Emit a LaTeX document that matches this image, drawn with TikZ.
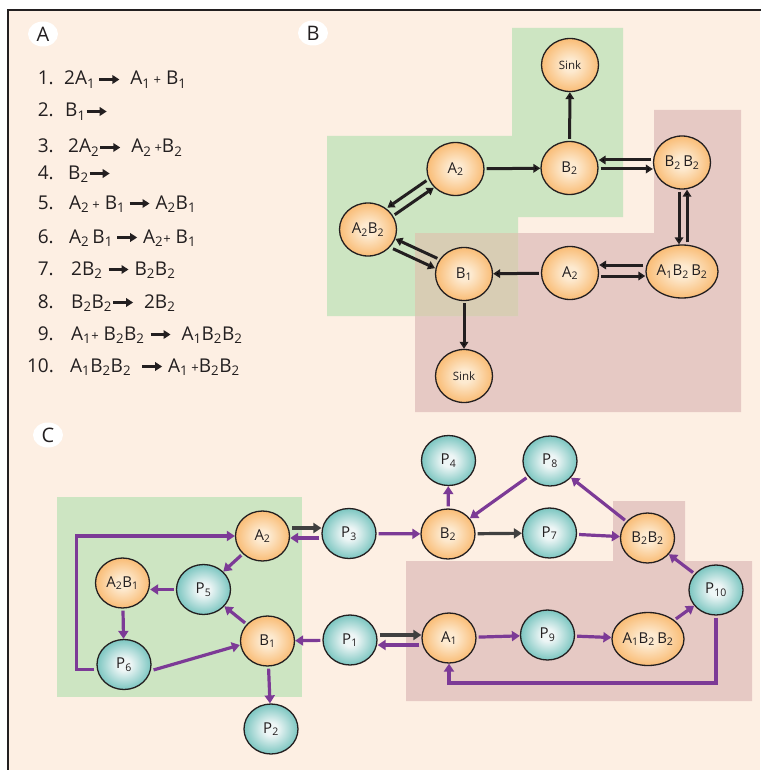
\documentclass[tikz,border=0pt]{standalone}
\usepackage{fontspec}
\setmainfont{Open Sans}
\usetikzlibrary{shapes.geometric,arrows.meta,calc}
\definecolor{bg}{RGB}{253,239,227}
\definecolor{grn}{RGB}{205,229,194}
\definecolor{rd}{RGB}{230,201,196}
\definecolor{ovl}{RGB}{216,205,180}
\definecolor{orout}{RGB}{246,148,38}
\definecolor{orin}{RGB}{253,234,208}
\definecolor{tlout}{RGB}{22,155,145}
\definecolor{tlin}{RGB}{238,246,246}
\definecolor{prp}{RGB}{124,58,150}
\definecolor{gry}{RGB}{64,64,64}
\definecolor{ink}{RGB}{35,31,32}
\pgfdeclareradialshading{orball}{\pgfpoint{0bp}{0bp}}{color(0bp)=(orin); color(6bp)=(orin); color(42bp)=(orout); color(50bp)=(orout)}
\pgfdeclareradialshading{tlball}{\pgfpoint{0bp}{0bp}}{color(0bp)=(tlin); color(6bp)=(tlin); color(42bp)=(tlout); color(50bp)=(tlout)}
\newcommand\sbs[1]{\textsubscript{#1}}
\newcommand\pl{{\fontsize{13}{13}\selectfont+}}
\newcommand\rarr{\tikz[baseline=-5.5pt]\draw[ink,line width=2.2pt,-{Triangle[length=7pt,width=8.5pt]}] (0pt,0pt) -- (20pt,0pt);}
\tikzset{
  nd/.style={ellipse, draw=ink, line width=1.3pt, minimum width=57pt, minimum height=53pt, inner sep=0pt, text=ink, font=\fontsize{15}{15}\selectfont},
  on/.style={nd, shade, shading=orball},
  tn/.style={nd, shade, shading=tlball},
  cn/.style={minimum width=54pt, minimum height=50pt},
  sk/.style={font=\fontsize{11.5}{12}\selectfont},
  barr/.style={draw=ink, line width=3pt, -{Triangle[length=7pt,width=8.5pt]}, shorten <=2pt},
  parr/.style={draw=prp, line width=3.2pt, -{Triangle[length=8pt,width=10pt]}, shorten <=2pt},
  garr/.style={draw=gry, line width=3.2pt, -{Triangle[length=8pt,width=10pt]}, shorten <=2pt},
  lbl/.style={ellipse, fill=white, minimum width=30pt, minimum height=25pt, inner sep=0pt, text=ink, font=\fontsize{20}{20}\selectfont},
  eqn/.style={anchor=base west, inner sep=0pt, text=ink, font=\fontsize{19}{19}\selectfont},
  num/.style={anchor=base east, inner sep=0pt, text=ink, font=\fontsize{19}{19}\selectfont},
}
\begin{document}
\begin{tikzpicture}[x=1pt,y=-1pt]
\useasboundingbox (0,0) rectangle (760,770);
\fill[white] (0,0) rectangle (760,770);
\fill[bg] (8,10) rectangle (760,770);
\draw[line width=2.2pt, ink] (8,772) -- (8,10) -- (762,10);
% panel B regions
\fill[rd] (654,110) -- (741,110) -- (741,412) -- (415,412) -- (415,233) -- (654,233) -- cycle;
\fill[grn] (512,28) -- (623,28) -- (623,217) -- (518,217) -- (518,316) -- (327,316) -- (327,136) -- (512,136) -- cycle;
\fill[ovl] (415,233) rectangle (518,316);
% panel C regions
\fill[grn] (57,497) rectangle (302,697);
\fill[rd] (613,501) -- (685,501) -- (685,561) -- (752,561) -- (752,701) -- (406,701) -- (406,561) -- (613,561) -- cycle;
% labels
\node[lbl] (la) at (43,34) {A};
\node[lbl] (lb) at (313,33) {B};
\node[lbl] (lc) at (48,435) {C};
% panel A
\node[num] (n1) at (54,85) {1.};
\node[eqn] (e1) at (64,85) {2A\sbs{1}\,\rarr\ \ A\sbs{1}\,\pl\ B\sbs{1}};
\node[num] (n2) at (54,117) {2.};
\node[eqn] (e2) at (65,117) {B\sbs{1}\rarr};
\node[num] (n3) at (54,153) {3.};
\node[eqn] (e3) at (68,153) {2A\sbs{2}\rarr\ \ A\sbs{2}\,\pl B\sbs{2}};
\node[num] (n4) at (54,179) {4.};
\node[eqn] (e4) at (68,179) {B\sbs{2}\rarr};
\node[num] (n5) at (54,209) {5.};
\node[eqn] (e5) at (69,209) {A\sbs{2}\,\pl\ B\sbs{1}\,\rarr\ A\sbs{2}B\sbs{1}};
\node[num] (n6) at (54,243) {6.};
\node[eqn] (e6) at (69,243) {A\sbs{2}\,B\sbs{1}\,\rarr\ A\sbs{2}\pl\ B\sbs{1}};
\node[num] (n7) at (54,275) {7.};
\node[eqn] (e7) at (71,275) {2B\sbs{2}\ \rarr\ B\sbs{2}B\sbs{2}};
\node[num] (n8) at (54,308) {8.};
\node[eqn] (e8) at (71,308) {B\sbs{2}B\sbs{2}\rarr\ \ 2B\sbs{2}};
\node[num] (n9) at (54,340) {9.};
\node[eqn] (e9) at (71,340) {A\sbs{1}\pl\ B\sbs{2}B\sbs{2}\ \rarr\ \ A\sbs{1}B\sbs{2}B\sbs{2}};
\node[num] (n10) at (54,372) {10.};
\node[eqn] (e10) at (70,372) {A\sbs{1}B\sbs{2}B\sbs{2}\ \ \rarr\ A\sbs{1}\,\pl B\sbs{2}B\sbs{2}};
% panel B nodes
\node[on, sk] (sinkt) at (570,65) {Sink};
\node[on] (a2) at (455.5,169) {A\sbs{2}};
\node[on] (b2) at (569.5,168) {B\sbs{2}};
\node[on] (b2b2) at (682,162.5) {B\sbs{2}\,B\sbs{2}};
\node[on] (a2b2) at (368,229.5) {A\sbs{2}B\sbs{2}};
\node[on] (b1) at (464,274) {B\sbs{1}};
\node[on] (a2r) at (570,273) {A\sbs{2}};
\node[on] (a1b2b2) at (682,271.5) {A\sbs{1}B\sbs{2}\,B\sbs{2}};
\node[on, sk] (sinkb) at (464,376) {Sink};
% panel B edges
\draw[barr] (a2) -- (b2);
\draw[barr] (b2) -- (sinkt);
\draw[barr] (b2b2.west |- 0,160) -- (b2.east |- 0,160);
\draw[barr] (b2.east |- 0,169) -- (b2b2.west |- 0,169);
\draw[barr] (b2b2.south -| 679,0) -- (a1b2b2.north -| 679,0);
\draw[barr] (a1b2b2.north -| 687,0) -- (b2b2.south -| 687,0);
\draw[barr] (a1b2b2.west |- 0,265) -- (a2r.east |- 0,265);
\draw[barr] (a2r.east |- 0,276) -- (a1b2b2.west |- 0,276);
\draw[barr] (a2r) -- (b1);
\draw[barr] (b1) -- (sinkb);
\draw[barr, transform canvas={xshift=-4pt,yshift=5.7pt}] (a2) -- (a2b2);
\draw[barr, transform canvas={xshift=1.7pt,yshift=-2.5pt}] (a2b2) -- (a2);
\draw[barr, transform canvas={xshift=1.3pt,yshift=2.7pt}] (b1) -- (a2b2);
\draw[barr, transform canvas={xshift=-2.9pt,yshift=-6.3pt}] (a2b2) -- (b1);
% panel C nodes
\node[on, cn] (ca2) at (262.5,536) {A\sbs{2}};
\node[tn, cn] (p3) at (349,533.5) {P\sbs{3}};
\node[on, cn] (a2b1) at (122.5,583) {A\sbs{2}B\sbs{1}};
\node[tn, cn] (p5) at (203.5,589.5) {P\sbs{5}};
\node[on, cn] (cb1) at (267.5,641) {B\sbs{1}};
\node[tn, cn] (p1) at (350,640) {P\sbs{1}};
\node[tn, cn] (p6) at (124,664.5) {P\sbs{6}};
\node[tn, cn] (p2) at (271,729) {P\sbs{2}};
\node[tn, cn] (p4) at (448.5,460.5) {P\sbs{4}};
\node[tn, cn] (p8) at (550,461) {P\sbs{8}};
\node[on, cn] (cb2) at (448,534) {B\sbs{2}};
\node[tn, cn] (p7) at (549.5,533) {P\sbs{7}};
\node[on, cn] (cb2b2) at (647.5,538) {B\sbs{2}B\sbs{2}};
\node[tn, cn] (p10) at (716,590) {P\sbs{10}};
\node[on, cn] (ca1) at (449,638) {A\sbs{1}};
\node[tn, cn] (p9) at (547.5,635) {P\sbs{9}};
\node[on] (ca1b2b2) at (648,639) {A\sbs{1}B\sbs{2}\,B\sbs{2}};
% panel C edges
\draw[garr] (ca2.east |- 0,528) -- (p3.west |- 0,528);
\draw[parr] (p3.west |- 0,538) -- (ca2.east |- 0,538);
\draw[parr] (p3) -- (cb2);
\draw[parr] (cb2) -- (p4);
\draw[parr] (p8) -- (cb2);
\draw[garr] (cb2) -- (p7);
\draw[parr] (p7) -- (cb2b2);
\draw[parr] (cb2b2) -- (p8);
\draw[parr] (p10) -- (cb2b2);
\draw[parr] (ca1b2b2) -- (p10);
\draw[parr] (ca1) -- (p9);
\draw[parr] (p9) -- (ca1b2b2);
\draw[parr] (p10.south) -- (p10.south |- 0,683) -| (ca1.south);
\draw[garr] (p1.east |- 0,635) -- (ca1.west |- 0,635);
\draw[parr] (ca1.west |- 0,645) -- (p1.east |- 0,645);
\draw[parr] (p1) -- (cb1);
\draw[parr] (cb1) -- (p2);
\draw[parr] (cb1) -- (p5);
\draw[parr] (ca2) -- (p5);
\draw[parr] (p5.west) -- (p5.west -| a2b1.east);
\draw[parr] (a2b1) -- (p6);
\draw[parr] ([yshift=-6pt]p6.east) -- ([yshift=-4pt]cb1.west);
\draw[parr] ([yshift=-5pt]p6.west) -- ++(-20,0) |- (ca2.west);
\end{tikzpicture}
\end{document}
